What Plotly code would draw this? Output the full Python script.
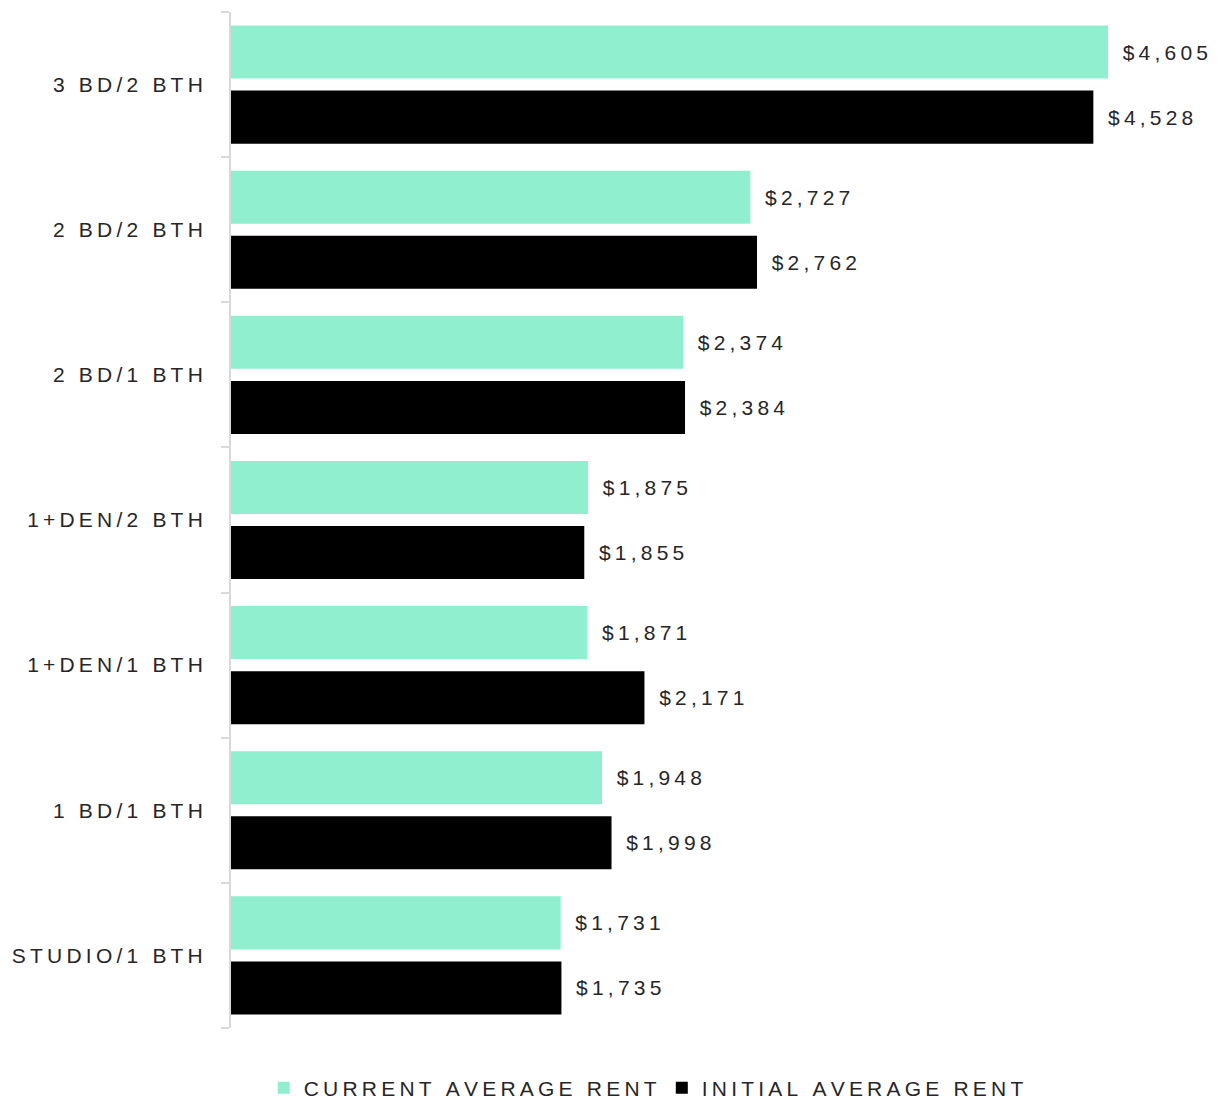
import plotly.graph_objects as go

categories = ["3 BD/2 BTH", "2 BD/2 BTH", "2 BD/1 BTH", "1+DEN/2 BTH",
              "1+DEN/1 BTH", "1 BD/1 BTH", "STUDIO/1 BTH"]
current_rent = [4605, 2727, 2374, 1875, 1871, 1948, 1731]
initial_rent = [4528, 2762, 2384, 1855, 2171, 1998, 1735]
series_names = ["CURRENT AVERAGE RENT", "INITIAL AVERAGE RENT"]

SP = "\u2009"  # thin space to mimic letter spacing


def spaced(s):
    return SP.join(list(s))


def money(v):
    return "  " + spaced("${:,}".format(v))


FONT = "Liberation Sans, Arial, sans-serif"
TXT = "#262626"

fig = go.Figure()
fig.add_trace(go.Bar(
    y=categories, x=current_rent, orientation="h", name=spaced(series_names[0]),
    marker=dict(color="#8FEFCE", line=dict(width=0)),
    text=[money(v) for v in current_rent], textposition="outside",
    constraintext="none", cliponaxis=False,
    textfont=dict(size=21, color=TXT, family=FONT),
))
fig.add_trace(go.Bar(
    y=categories, x=initial_rent, orientation="h", name=spaced(series_names[1]),
    marker=dict(color="#000000", line=dict(width=0)),
    text=[money(v) for v in initial_rent], textposition="outside",
    constraintext="none", cliponaxis=False,
    textfont=dict(size=21, color=TXT, family=FONT),
))

fig.update_layout(
    width=1210, height=1092,
    margin=dict(l=223, r=10, t=4, b=72, autoexpand=False),
    barmode="group", bargap=0.103, bargroupgap=0.185,
    plot_bgcolor="white", paper_bgcolor="white",
    font=dict(family=FONT, size=21, color=TXT),
    showlegend=True,
    legend=dict(orientation="h", x=0.425, xanchor="center",
                yref="container", y=0.011, yanchor="middle",
                font=dict(size=21, color=TXT, family=FONT), itemwidth=30,
                traceorder="normal"),
    xaxis=dict(range=[0, 5130], visible=False, showgrid=False, zeroline=False),
    yaxis=dict(autorange="reversed", showline=True, linecolor="#d9d9d9", linewidth=2,
               ticks="outside", ticklen=8, tickcolor="#d9d9d9", tickwidth=2,
               tickson="boundaries", showgrid=False, automargin=False,
               tickfont=dict(size=21, color=TXT, family=FONT),
               ticklabelstandoff=22,
               tickvals=categories, ticktext=[spaced(c) for c in categories]),
)

fig.write_html("out.html")
